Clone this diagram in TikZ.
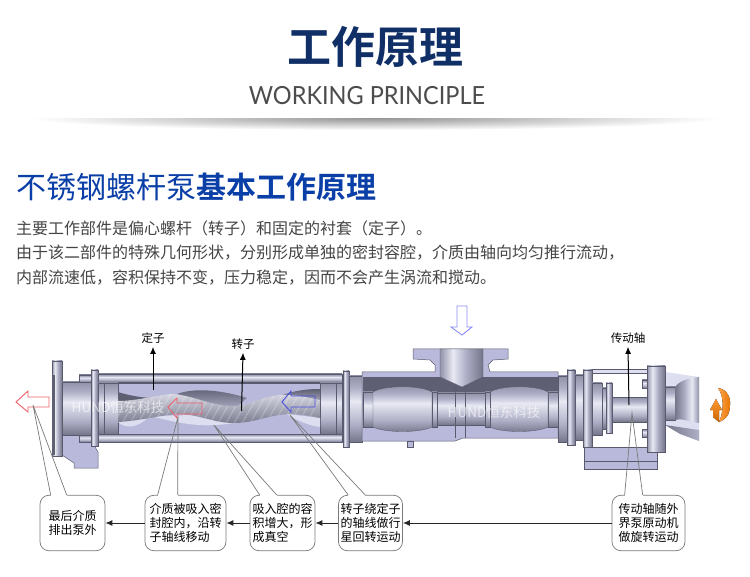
\documentclass[tikz,border=0pt]{standalone}
\usepackage{fontspec}
\setmainfont{Noto Sans CJK SC}[BoldFont={Noto Sans CJK SC Bold}]
\newfontfamily\latinfont{Lato}[FakeStretch=0.94]
\usetikzlibrary{arrows.meta, calc}

\definecolor{navy}{HTML}{0F2F66}
\definecolor{royal}{HTML}{0B3FA8}
\definecolor{bodyText}{HTML}{454545}
\definecolor{edge}{HTML}{5A5A6E}
\definecolor{lav}{HTML}{B9BADB}
\definecolor{lavLight}{HTML}{DDDEEF}
\definecolor{cylDark}{HTML}{747589}
\definecolor{cylMid}{HTML}{AEAFC6}
\definecolor{cylLight}{HTML}{E8E9F3}
\definecolor{cylTop}{HTML}{9192A8}
\definecolor{darkBand}{HTML}{5E5F72}
\definecolor{redArrow}{HTML}{F0606A}
\definecolor{blueArrow}{HTML}{4A50E0}
\definecolor{inletArrow}{HTML}{8C8CF5}
\definecolor{tailGray}{HTML}{7A7A7A}

\pgfdeclareverticalshading{cylV}{100bp}{color(0bp)=(cylDark); color(25bp)=(cylDark); color(38bp)=(cylMid);
    color(56bp)=(cylLight); color(66bp)=(cylMid); color(75bp)=(cylTop); color(100bp)=(cylTop)}
\pgfdeclarehorizontalshading{cylH}{100bp}{color(0bp)=(cylTop); color(25bp)=(cylTop); color(40bp)=(cylLight);
    color(55bp)=(cylMid); color(75bp)=(cylDark); color(100bp)=(cylDark)}

\begin{document}
\begin{tikzpicture}[x=1pt, y=-1pt,
    metal/.style={shading=cylV, draw=edge, line width=0.35pt},
    metalH/.style={shading=cylH, draw=edge, line width=0.35pt},
    flat/.style={fill=lav, draw=edge, line width=0.5pt},
    callout/.style={draw=tailGray, rounded corners=9pt, fill=white, inner sep=0pt, align=left, line width=0.7pt,
        minimum height=55.5, font=\fontsize{12}{14}\selectfont},
    tail/.style={draw=tailGray, line width=0.7pt},
    gap/.style={draw=white, line width=1.6pt},
    msg/.style={-{Latex[length=7pt,width=6pt]}, line width=1pt, draw=black!85},
    pointer/.style={-{Latex[length=7pt,width=6pt]}, line width=1pt},
    lbl/.style={font=\fontsize{11.5}{13}\selectfont},
    outArrow/.style={line width=0.9pt},
    wmark/.style={font=\fontsize{13.5}{15}\selectfont, text=white, text opacity=0.62}
]
\useasboundingbox (0,0) rectangle (750,577);
\fill[white] (0,0) rectangle (750,577);

\def\yBox{523}

% heading
\node[font=\fontsize{44}{44}\selectfont\bfseries, text=navy] (title) at (375,47) {工作原理};
\node[font=\latinfont\fontsize{25}{25}\selectfont, text=black!70] (subtitle) at (367,96) {WORKING PRINCIPLE};
\shade[inner color=black!42, outer color=white] (375,118) ellipse (345 and 12);
\fill[white] (20,105) rectangle (730,118);

\node[font=\fontsize{30}{30}\selectfont, text=royal, anchor=west, inner sep=0pt] (head) at (16,187) {不锈钢螺杆泵\textbf{基本工作原理}};
\node[font=\fontsize{16}{24.5}\selectfont, text=bodyText, anchor=north west, align=left, inner sep=0pt] (intro) at (16,220.5) {主要工作部件是偏心螺杆（转子）和固定的衬套（定子）。\\
由于该二部件的特殊几何形状，分别形成单独的密封容腔，介质由轴向均匀推行流动，\\
内部流速低，容积保持不变，压力稳定，因而不会产生涡流和搅动。};

% left end
\draw[flat] (62,435) -- (88,435) -- (98,452) -- (98,468) -- (74,468) -- (74,463) -- (62,455) -- cycle;
\draw[metalH] (52,361) rectangle (62,456);
\fill[darkBand] (52,375) rectangle (55,455);
\draw[metal] (62,382) rectangle (91,435);
\draw[metal] (79,375) rectangle (91,382);
\draw[metal] (79,435) rectangle (91,442);
\draw[metalH] (91,370) rectangle (98,446);

% stator chamber
\draw[metal] (98,374) rectangle (342,382);
\draw[metal] (98,434) rectangle (342,442);
\draw[flat] (118,383) rectangle (320,434);
\draw[metal] (98,383) rectangle (104,434);
\draw[metal] (104,383) rectangle (118,434);
\draw[metal] (320,383) rectangle (336,434);
\draw[metal] (336,383) rectangle (342,434);
\fill[darkBand] (118,392) .. controls (130,396) and (145,398) .. (153,398) -- (118,402) -- cycle;
\shade[top color=darkBand, bottom color=cylMid] (177,394) .. controls (190,389) and (215,388) .. (247,398) -- (233,410) -- (207,406) -- cycle;
\shade[top color=darkBand, bottom color=cylMid] (283,395) .. controls (295,390) and (310,389) .. (320,389) -- (320,403) -- cycle;
\fill[lavLight] (150,416) .. controls (175,422) and (200,429) .. (233,423) -- (193,415) -- cycle;
\fill[lavLight] (287,414) .. controls (295,420) and (310,426) .. (320,427) -- (320,418) -- cycle;
\fill[lavLight] (118,422) .. controls (125,428) and (135,430) .. (150,416) -- cycle;
\begin{scope}
\clip (118,401) .. controls (135,401) and (155,396) .. (170,394) .. controls (190,394) and (210,406) .. (233,406)
    .. controls (250,406) and (265,395) .. (283,395) .. controls (300,395) and (310,398) .. (320,400)
    -- (320,418) .. controls (310,416) and (300,414) .. (287,414) .. controls (265,416) and (255,423) .. (233,423)
    .. controls (215,423) and (200,415) .. (180,414) .. controls (160,415) and (140,421) .. (118,422) -- cycle;
\shade[top color=cylLight, bottom color=cylDark] (118,388) rectangle (320,425);
\foreach \xs in {125,133,...,325}
    \draw[white, opacity=0.22, line width=1.2pt] (\xs,390) -- (\xs-20,425);
\end{scope}

% inlet casing
\draw[metalH] (343,371) rectangle (349,447);
\draw[metal] (349,376) rectangle (362,442);
\draw[flat] (413,349) -- (508,349) -- (508,359) -- (493,360) -- (488,365) -- (490,372) -- (558,372)
    -- (558,438) -- (463,438) -- (455,441) -- (362,441) -- (362,372) -- (435,372) -- (435,365) -- (430,360) -- (413,359) -- cycle;
\draw[flat] (407,441) rectangle (413,447);
\fill[darkBand] (363,377) rectangle (558,392);
\draw[metal] (363,392) rectangle (373,427);
\draw[metal] (437,393) rectangle (485,425);
\draw[metal] (548,392) rectangle (558,427);
\draw[metal] (373,392) .. controls (385,385) and (420,385) .. (432,392) -- (432,427) .. controls (420,433) and (385,433) .. (373,427) -- cycle;
\draw[metal] (490,392) .. controls (502,385) and (536,385) .. (548,392) -- (548,427) .. controls (536,433) and (502,433) .. (490,427) -- cycle;
\draw[metal] (432,392) rectangle (437,427);
\draw[metal] (485,392) rectangle (490,427);
\draw[edge, line width=0.8pt] (455,385) -- (455,438) (465,385) -- (465,438);
\draw[metalH] (440,349) -- (483,349) -- (483,377) -- (462,387) -- (440,377) -- cycle;

% drive end
\draw[flat] (584,447) rectangle (657,469);
\draw[edge, line width=0.5pt] (584,461) -- (657,461);
\draw[flat, fill=lavLight] (592,369) rectangle (647,373);
\draw[metal] (558,376) rectangle (567,442);
\draw[metalH] (567,370) rectangle (575,445);
\draw[metal] (575,375) rectangle (583,440);
\draw[metalH] (583,370) rectangle (592,447);
\draw[metal] (592,383) rectangle (602,435);
\draw[metal] (602,388) rectangle (606,429);
\draw[metalH] (606,383) rectangle (612,433);
\draw[metal] (612,397) rectangle (647,422);
\draw[metal] (642,380) rectangle (647,388);
\draw[metal] (642,429) rectangle (647,437);
\draw[flat, fill=lavLight, draw=none] (665,372) -- (699,377) -- (699,441) -- (665,425) -- cycle;
\shade[left color=cylDark, right color=cylMid] (665,425) -- (699,430) -- (699,441) -- (680,434) -- cycle;
\draw[metal] (665,387) rectangle (675,420);
\shade[shading=cylH, shading angle=180] (675,387) .. controls (680,380) and (690,378) .. (699,377) -- (699,423) .. controls (688,421) and (680,418) .. (675,420) -- cycle;
\draw[metalH] (647,366) rectangle (665,452);

% outline arrows
\draw[outArrow, draw=redArrow] (16,402) -- (28,391) -- (28,397) -- (49,397) -- (49,407) -- (28,407) -- (28,412) -- cycle;
\draw[outArrow, draw=redArrow] (168,407) -- (177,398) -- (177,403) -- (202,403) -- (202,414) -- (177,414) -- (177,418) -- cycle;
\draw[outArrow, draw=blueArrow] (282,402) -- (291,391) -- (291,396) -- (315,396) -- (315,407) -- (291,407) -- (291,412) -- cycle;
\draw[outArrow, draw=inletArrow] (457,306) -- (467,306) -- (467,327) -- (472,327) -- (462,335) -- (451,327) -- (457,327) -- cycle;

% rotation sign
\fill[left color=orange!70!white, right color=orange!90!black] (718,388) .. controls (727,389) and (731,398) .. (730,405) .. controls (730,414) and (726,420) .. (719,422) .. controls (723,414) and (725,397) .. (718,388) -- cycle;
\fill[top color=orange!80!white, bottom color=orange!80!black] (716,399) -- (722,410) -- (719,410) -- (719,422) -- (713,417) -- (713,410) -- (710,410) -- cycle;

% watermarks
\node[wmark] (markL) at (118,407) {HUND恒东科技};
\node[wmark] (markR) at (494,412) {HUND恒东科技};

% part names
\coordinate (statorEnd) at (153,390);
\coordinate (rotorEnd) at (241.5,411);
\coordinate (shaftEnd) at (629,405);
\node[lbl] (stator) at (153,338) {定子};
\node[lbl] (rotor) at (243,344) {转子};
\node[lbl] (shaft) at (628,338) {传动轴};
\draw[pointer] (statorEnd) -- (stator.south);
\draw[pointer] (rotorEnd) -- (rotor.south);
\draw[pointer] (shaftEnd) -- (shaft.south);

% callouts
\node[callout, minimum width=65] (stepA) at (72.5,\yBox) {最后介质\\排出泵外};
\node[callout, minimum width=81] (stepB) at (185.5,\yBox) {介质被吸入密\\封腔内，沿转\\子轴线移动};
\node[callout, minimum width=65] (stepC) at (282.5,\yBox) {吸入腔的容\\积增大，形\\成真空};
\node[callout, minimum width=64] (stepD) at (370.5,\yBox) {转子绕定子\\的轴线做行\\星回转运动};
\node[callout, minimum width=73] (stepE) at (648.5,\yBox) {传动轴随外\\界泵原动机\\做旋转运动};

\coordinate (tipA) at (33,405);
\coordinate (tipB) at (178,417);
\coordinate (tipC) at (214,425);
\coordinate (tipD) at (290,415);
\coordinate (tipE) at (632,413);

\draw[gap] ([xshift=11pt]stepA.north west) -- ([xshift=27pt]stepA.north west);
\draw[gap] ([xshift=13pt]stepB.north west) -- ([xshift=33pt]stepB.north west);
\draw[gap] ([xshift=10pt]stepC.north west) -- ([xshift=27pt]stepC.north west);
\draw[gap] ([xshift=10pt]stepD.north west) -- ([xshift=27pt]stepD.north west);
\draw[gap] ([xshift=13pt]stepE.north west) -- ([xshift=31pt]stepE.north west);
\draw[tail] ([xshift=11pt]stepA.north west) -- (tipA) -- ([xshift=27pt]stepA.north west);
\draw[tail] ([xshift=13pt]stepB.north west) -- (tipB) -- ([xshift=33pt]stepB.north west);
\draw[tail] ([xshift=10pt]stepC.north west) -- (tipC) -- ([xshift=27pt]stepC.north west);
\draw[tail] ([xshift=10pt]stepD.north west) -- (tipD) -- ([xshift=27pt]stepD.north west);
\draw[tail] ([xshift=13pt]stepE.north west) -- (tipE) -- ([xshift=31pt]stepE.north west);

\draw[msg] (stepE) -- (stepD);
\draw[msg] (stepD) -- (stepC);
\draw[msg] (stepC) -- (stepB);
\draw[msg] (stepB) -- (stepA);

\end{tikzpicture}
\end{document}
